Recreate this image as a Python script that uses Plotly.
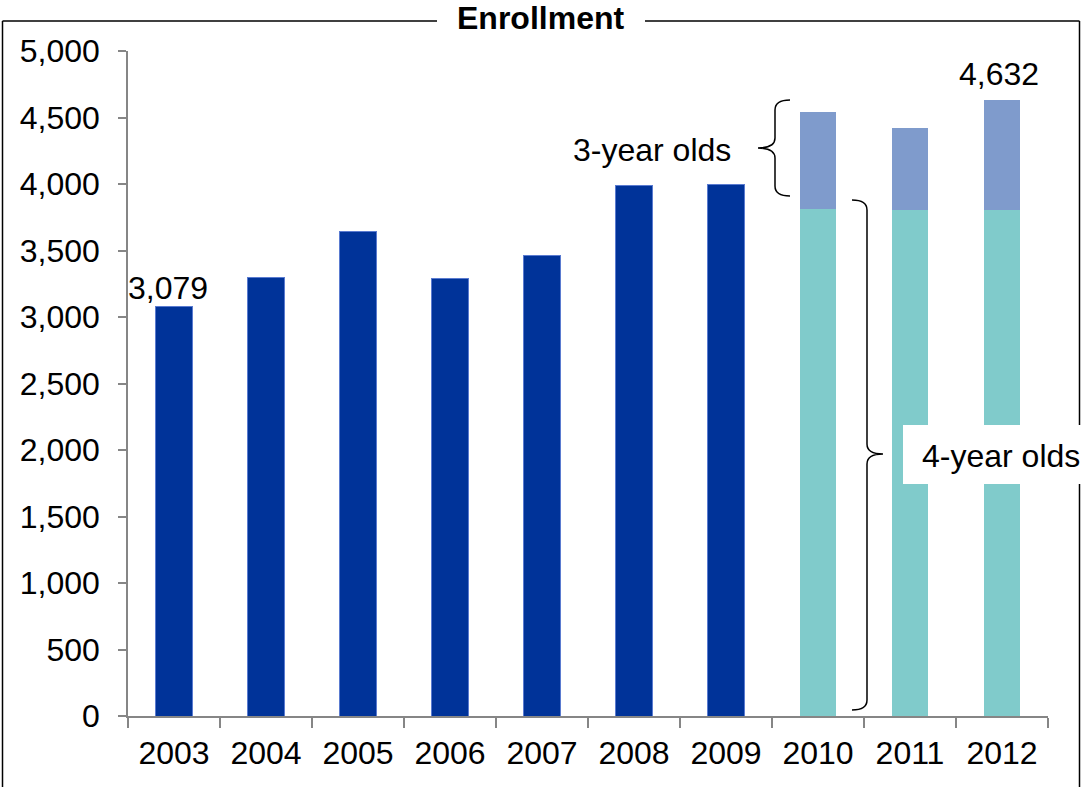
import plotly.graph_objects as go

# ---- data ----
years_single = ["2003", "2004", "2005", "2006", "2007", "2008", "2009"]
enroll_single = [3079, 3295, 3640, 3288, 3460, 3990, 3995]
years_split = ["2010", "2011", "2012"]
enroll_total_split = [4540, 4420, 4632]
enroll_4yr = [3812, 3805, 3805]
enroll_3yr = [t - f for t, f in zip(enroll_total_split, enroll_4yr)]
all_years = years_single + years_split
ytick_vals = [0, 500, 1000, 1500, 2000, 2500, 3000, 3500, 4000, 4500, 5000]

DARK = "#003399"
LIGHT = "#7F9BCC"
TEAL = "#80CBCB"
FONT = "Arial, Liberation Sans, sans-serif"
FS = 32

# plot-area pixel geometry (for decorations)
L, R, T, B = 128, 1048, 51, 716
W, H = 1083, 787


def px(x):
    return (x - L) / (R - L)


def py(y):
    return (B - y) / (B - T)


fig = go.Figure()
fig.add_trace(go.Bar(x=years_single, y=enroll_single, marker=dict(color=DARK, line=dict(color="#5a7bd0", width=1)),
                     width=0.4, name="Total", showlegend=False))
fig.add_trace(go.Bar(x=years_split, y=enroll_4yr, marker=dict(color=TEAL, line=dict(width=0)),
                     width=0.4, name="4-year olds", showlegend=False))
fig.add_trace(go.Bar(x=years_split, y=enroll_3yr, marker=dict(color=LIGHT, line=dict(width=0)),
                     width=0.4, name="3-year olds", showlegend=False))

shapes = []
line = dict(color="black", width=1.5)
# outer frame with gap for title
shapes.append(dict(type="line", xref="paper", yref="paper", x0=px(2.5), x1=px(2.5), y0=py(21), y1=py(790), line=line, layer="above"))
shapes.append(dict(type="line", xref="paper", yref="paper", x0=px(1079.5), x1=px(1079.5), y0=py(21), y1=py(790), line=line, layer="above"))
shapes.append(dict(type="line", xref="paper", yref="paper", x0=px(2.5), x1=px(437), y0=py(21), y1=py(21), line=line, layer="above"))
shapes.append(dict(type="line", xref="paper", yref="paper", x0=px(645), x1=px(1079.5), y0=py(21), y1=py(21), line=line, layer="above"))


def path(points):
    s = ""
    for cmd, *coords in points:
        s += cmd + " " + " ".join(f"{px(coords[i]):.5f},{py(coords[i+1]):.5f}" for i in range(0, len(coords), 2)) + " "
    return s.strip()


brace1 = path([("M", 790, 100), ("Q", 775, 100, 775, 110), ("L", 775, 138), ("Q", 775, 148, 758, 148),
               ("Q", 775, 148, 775, 158), ("L", 775, 186), ("Q", 775, 196, 790, 196)])
brace2 = path([("M", 852, 200), ("Q", 867, 200, 867, 210), ("L", 867, 444), ("Q", 867, 454, 883, 454),
               ("Q", 867, 454, 867, 464), ("L", 867, 700), ("Q", 867, 710, 852, 710)])
shapes.append(dict(type="path", xref="paper", yref="paper", path=brace1, line=dict(color="black", width=1.5), layer="above"))
shapes.append(dict(type="path", xref="paper", yref="paper", path=brace2, line=dict(color="black", width=1.5), layer="above"))
# white box behind 4-year olds label
shapes.append(dict(type="rect", xref="paper", yref="paper", x0=px(903), x1=px(1090), y0=py(425), y1=py(484),
                   fillcolor="white", line=dict(width=0), layer="above"))

annotations = [
    dict(text="<b>Enrollment</b>", xref="paper", yref="paper", x=px(540), y=py(18), showarrow=False,
         font=dict(family=FONT, size=FS, color="black"), xanchor="center", yanchor="middle"),
    dict(text=f"{enroll_single[0]:,}", x=all_years.index(years_single[0]), y=enroll_single[0], xref="x", yref="y",
         showarrow=False, yanchor="bottom", xshift=-6, yshift=-2, font=dict(family=FONT, size=FS, color="black")),
    dict(text=f"{enroll_total_split[-1]:,}", x=all_years.index(years_split[-1]), y=enroll_total_split[-1],
         xref="x", yref="y", showarrow=False, yanchor="bottom", xshift=-3, yshift=6,
         font=dict(family=FONT, size=FS, color="black")),
    dict(text="3-year olds", xref="paper", yref="paper", x=px(652), y=py(150), showarrow=False,
         xanchor="center", yanchor="middle", font=dict(family=FONT, size=FS, color="black")),
    dict(text="4-year olds", xref="paper", yref="paper", x=px(920), y=py(456), showarrow=False,
         xanchor="left", yanchor="middle", font=dict(family=FONT, size=FS, color="black")),
]

fig.update_layout(
    width=W, height=H,
    margin=dict(l=L, r=W - R, t=T, b=H - B, pad=0),
    paper_bgcolor="white", plot_bgcolor="white",
    barmode="stack",
    shapes=shapes, annotations=annotations,
    font=dict(family=FONT, size=FS, color="black"),
)
fig.update_xaxes(type="category", categoryorder="array", categoryarray=all_years,
                 range=[-0.5, len(all_years) - 0.5], automargin=False, tickangle=0,
                 showline=True, linecolor="#868686", linewidth=1.5,
                 ticks="outside", tickson="boundaries", ticklen=10, tickcolor="#868686", tickwidth=1.5,
                 ticklabelstandoff=8, tickfont=dict(family=FONT, size=FS, color="black"),
                 showgrid=False, zeroline=False, fixedrange=True)
fig.update_yaxes(range=[0, 5000], tickvals=ytick_vals, tickformat=",", automargin=False,
                 showline=True, linecolor="#868686", linewidth=1.5,
                 ticks="outside", ticklen=8, tickcolor="#868686", tickwidth=1.5,
                 ticklabelstandoff=12, tickfont=dict(family=FONT, size=FS, color="black"),
                 showgrid=False, zeroline=False, fixedrange=True)

fig.write_html("out.html", config={"displayModeBar": False})
